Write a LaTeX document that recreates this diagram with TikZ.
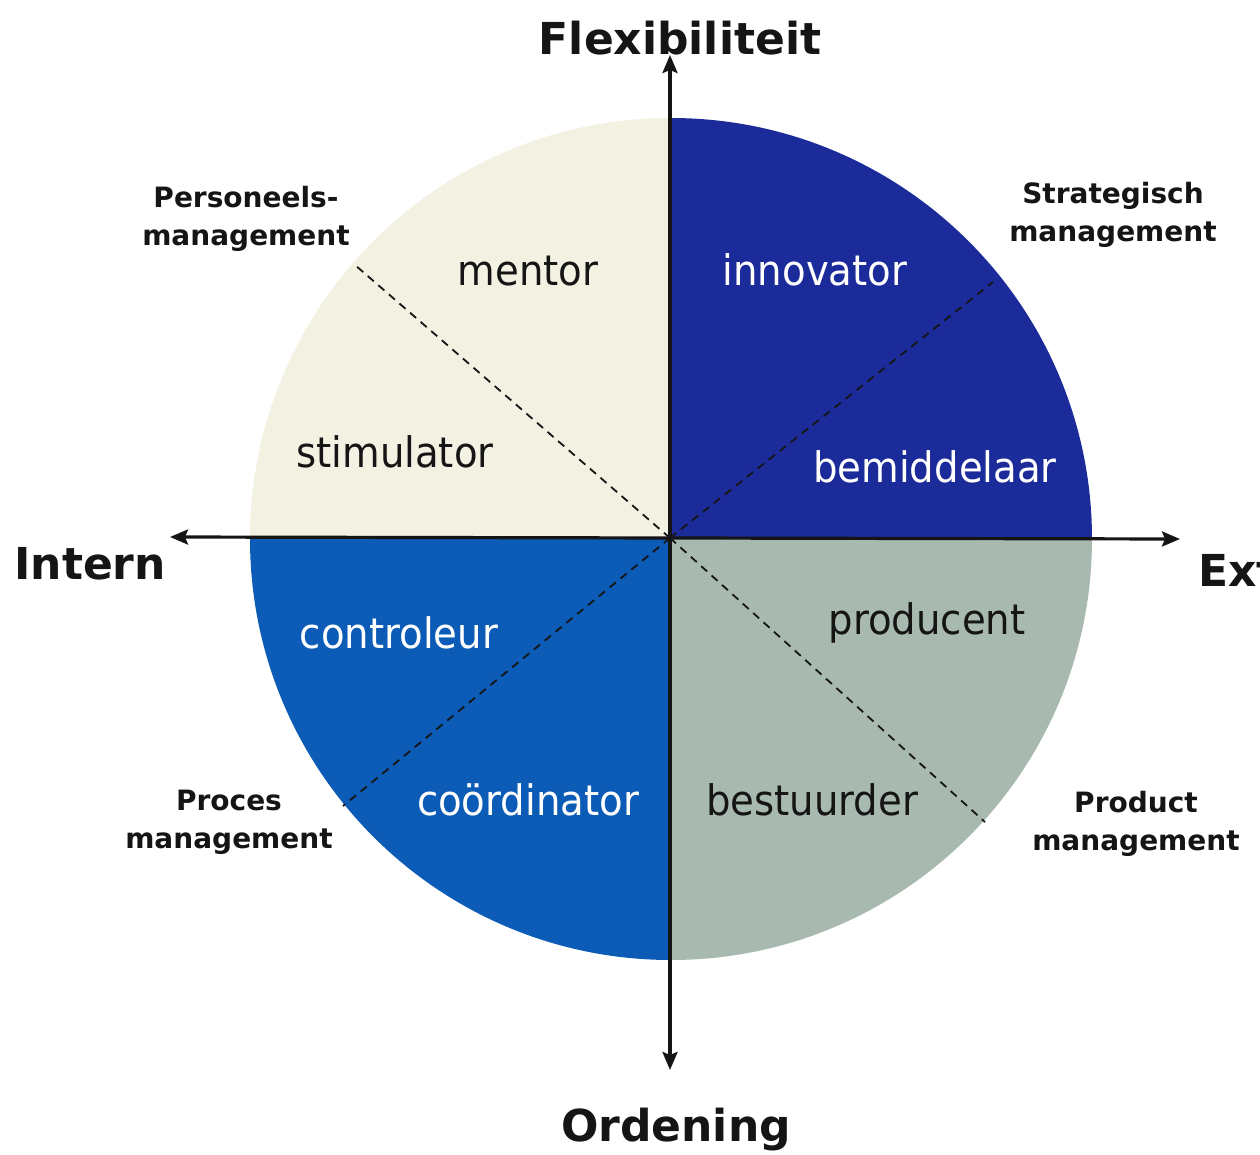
\documentclass[tikz,border=0pt]{standalone}
\usepackage{fontspec}
\setmainfont{DejaVu Sans}
\newfontfamily\quadfont[FakeStretch=0.92]{DejaVu Sans}
\usetikzlibrary{arrows.meta}
\definecolor{qcream}{HTML}{F2F1E2}
\definecolor{qdarkblue}{HTML}{1C2B9A}
\definecolor{qblue}{HTML}{0C5BB6}
\definecolor{qgray}{HTML}{A8B9B0}
\definecolor{ink}{HTML}{151515}
\tikzset{
  quad/.style={font=\quadfont\fontsize{21}{25}\selectfont, inner sep=0pt, anchor=base},
  darktext/.style={quad, text=ink},
  lighttext/.style={quad, text=white},
  axistitle/.style={font=\bfseries\fontsize{22}{26}\selectfont, inner sep=0pt, anchor=base, text=ink},
  areatitle/.style={font=\bfseries\fontsize{14}{17}\selectfont, inner sep=0pt, anchor=base, text=ink},
  axis/.style={line width=1.6pt, draw=ink, {Stealth[length=9pt,width=7.5pt,inset=1.5pt]}-{Stealth[length=9pt,width=7.5pt,inset=1.5pt]}},
  divider/.style={line width=0.9pt, draw=ink, dash pattern=on 4pt off 3pt}
}
\begin{document}
\begin{tikzpicture}[x=0.5pt,y=-0.5pt]
\useasboundingbox[fill=white] (0,0) rectangle (1260,1155);
\coordinate (c) at (670,538);
% quadrants
\begin{scope}
  \clip (671,539) circle[radius=210.5pt];
  \fill[qcream] (c) rectangle (230,100);
  \fill[qdarkblue] (c) rectangle (1110,100);
  \fill[qblue] (c) rectangle (230,980);
  \fill[qgray] (c) rectangle (1110,980);
\end{scope}
% dashed dividers
\coordinate (dTL) at (355,265);
\coordinate (dTR) at (993,282);
\coordinate (dBL) at (343,806);
\coordinate (dBR) at (985,822);
\draw[divider] (c) -- (dTL);
\draw[divider] (c) -- (dTR);
\draw[divider] (c) -- (dBL);
\draw[divider] (c) -- (dBR);
% axes
\coordinate (aTop) at (670,55);
\coordinate (aBot) at (670,1070);
\coordinate (aLeft) at (170,537);
\coordinate (aRight) at (1180,539);
\draw[axis] (aBot) -- (aTop);
\draw[axis] (aLeft) -- (aRight);
% axis titles
\node[axistitle] (flex) at (680,55) {Flexibiliteit};
\node[axistitle, anchor=base west] (intern) at (14,580) {Intern};
\node[axistitle, anchor=base west] (extern) at (1198,587) {Ext};
\node[axistitle] (orden) at (676,1141) {Ordening};
% role labels
\node[darktext] (mentor) at (528,286) {mentor};
\node[lighttext] (innovator) at (815,286) {innovator};
\node[darktext] (stimulator) at (395,468) {stimulator};
\node[lighttext] (bemiddelaar) at (935,483) {bemiddelaar};
\node[lighttext] (controleur) at (399,648) {controleur};
\node[darktext] (producent) at (927,634) {producent};
\node[lighttext] (coordinator) at (528,815) {coördinator};
\node[darktext] (bestuurder) at (812,815) {bestuurder};
% management areas
\node[areatitle] (pers1) at (246,208) {Personeels-};
\node[areatitle] (pers2) at (246,246) {management};
\node[areatitle] (strat1) at (1113,204) {Strategisch};
\node[areatitle] (strat2) at (1113,242) {management};
\node[areatitle] (proc1) at (229,810) {Proces};
\node[areatitle] (proc2) at (229,848) {management};
\node[areatitle] (prod1) at (1136,812) {Product};
\node[areatitle] (prod2) at (1136,850) {management};
\end{tikzpicture}
\end{document}
